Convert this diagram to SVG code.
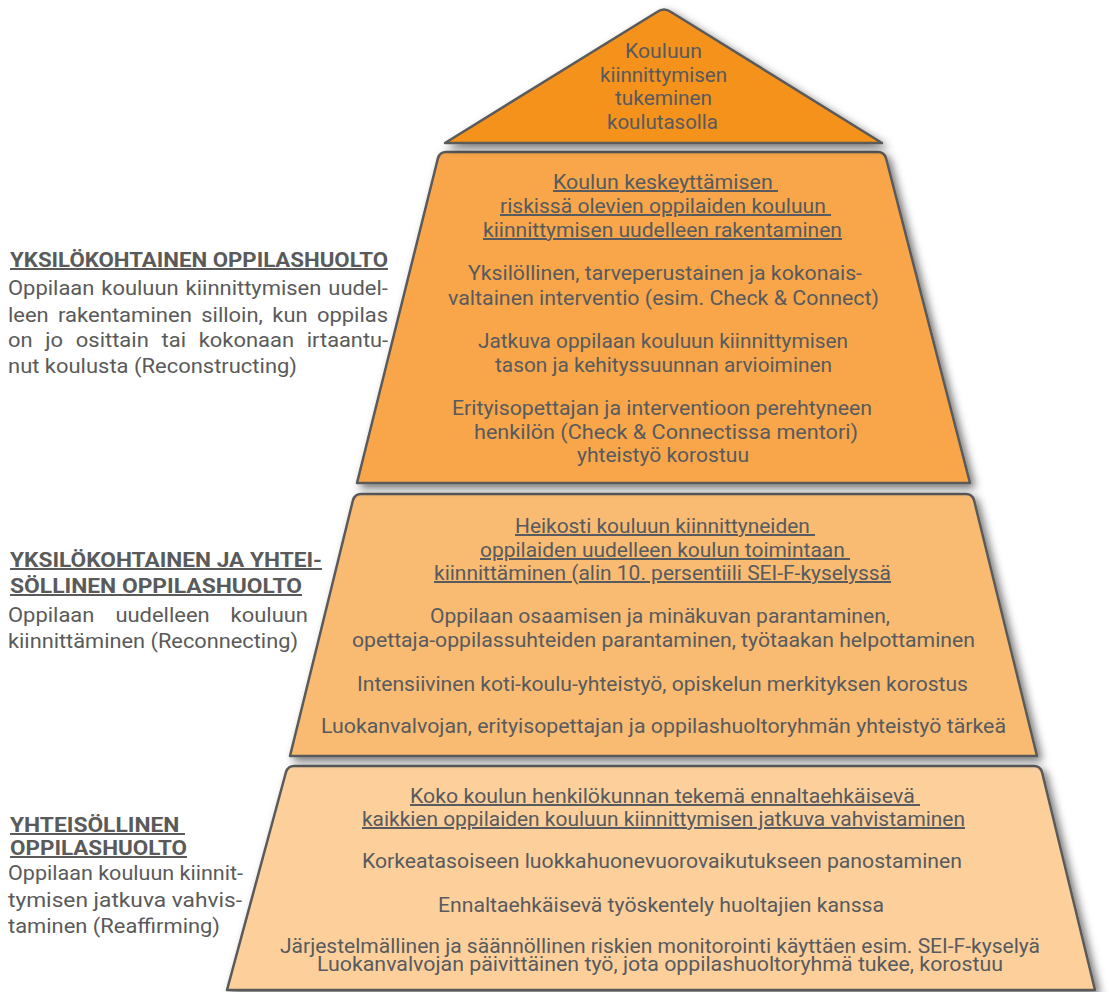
<svg xmlns="http://www.w3.org/2000/svg" width="1109" height="992" viewBox="0 0 1109 992">
<defs>
<style>
.shape{stroke:#5a5a5a;stroke-width:2.5;stroke-linejoin:round;filter:url(#sh)}
.t{font-family:Roboto,"Liberation Sans",sans-serif;font-size:20px;fill:#575a5e;text-anchor:middle}
.u{text-decoration:underline;white-space:pre}
.l{font-family:Roboto,"Liberation Sans",sans-serif;font-size:20px;fill:#5a5a5a}
.h{font-family:Roboto,"Liberation Sans",sans-serif;font-size:20px;font-weight:bold;fill:#5a5a5a;text-decoration:underline;white-space:pre}
</style>
<filter id="sh" x="-10%" y="-10%" width="125%" height="130%">
<feDropShadow dx="4" dy="4" stdDeviation="4" flood-color="#000" flood-opacity="0.55"/>
</filter>
</defs>
<rect width="1109" height="992" fill="#ffffff"/>

<g id="connectors"/>

<g id="level4">
<path class="shape" fill="#FDD09B" d="M227,990 L286,772 Q288,766 294,766 L1034,766 Q1040,766 1042,772 L1095,990 Z"/>
<text class="t u" x="665" y="803" textLength="510" lengthAdjust="spacingAndGlyphs">Koko koulun henkilökunnan tekemä ennaltaehkäisevä </text>
<text class="t u" x="663.5" y="826" textLength="603" lengthAdjust="spacingAndGlyphs">kaikkien oppilaiden kouluun kiinnittymisen jatkuva vahvistaminen</text>
<text class="t" x="662" y="868" textLength="600" lengthAdjust="spacingAndGlyphs">Korkeatasoiseen luokkahuonevuorovaikutukseen panostaminen</text>
<text class="t" x="661" y="912" textLength="446" lengthAdjust="spacingAndGlyphs">Ennaltaehkäisevä työskentely huoltajien kanssa</text>
<text class="t" x="660" y="953" textLength="760" lengthAdjust="spacingAndGlyphs">Järjestelmällinen ja säännöllinen riskien monitorointi käyttäen esim. SEI-F-kyselyä</text>
<text class="t" x="660" y="971" textLength="686" lengthAdjust="spacingAndGlyphs">Luokanvalvojan päivittäinen työ, jota oppilashuoltoryhmä tukee, korostuu</text>
</g>

<g id="level3">
<path class="shape" fill="#F9BA72" d="M290,756 L353,500 Q355,494 361,494 L966,494 Q972,494 974,500 L1037,756 Z"/>
<text class="t u" x="665" y="533" textLength="300" lengthAdjust="spacingAndGlyphs">Heikosti kouluun kiinnittyneiden </text>
<text class="t u" x="665" y="557" textLength="370" lengthAdjust="spacingAndGlyphs">oppilaiden uudelleen koulun toimintaan </text>
<text class="t u" x="662.5" y="580" textLength="457" lengthAdjust="spacingAndGlyphs">kiinnittäminen (alin 10. persentiili SEI-F-kyselyssä</text>
<text class="t" x="660" y="623" textLength="460" lengthAdjust="spacingAndGlyphs">Oppilaan osaamisen ja minäkuvan parantaminen,</text>
<text class="t" x="663.5" y="647" textLength="623" lengthAdjust="spacingAndGlyphs">opettaja-oppilassuhteiden parantaminen, työtaakan helpottaminen</text>
<text class="t" x="662.5" y="691" textLength="611" lengthAdjust="spacingAndGlyphs">Intensiivinen koti-koulu-yhteistyö, opiskelun merkityksen korostus</text>
<text class="t" x="663.5" y="733" textLength="685" lengthAdjust="spacingAndGlyphs">Luokanvalvojan, erityisopettajan ja oppilashuoltoryhmän yhteistyö tärkeä</text>
</g>

<g id="level2">
<path class="shape" fill="#F8A64A" d="M357,483 L438,158 Q440,152 446,152 L878,152 Q884,152 886,158 L970,483 Z"/>
<text class="t u" x="665.5" y="189" textLength="225" lengthAdjust="spacingAndGlyphs">Koulun keskeyttämisen </text>
<text class="t u" x="665.5" y="213" textLength="331" lengthAdjust="spacingAndGlyphs">riskissä olevien oppilaiden kouluun </text>
<text class="t u" x="662.5" y="237" textLength="359" lengthAdjust="spacingAndGlyphs">kiinnittymisen uudelleen rakentaminen</text>
<text class="t" x="665" y="280" textLength="394" lengthAdjust="spacingAndGlyphs">Yksilöllinen, tarveperustainen ja kokonais-</text>
<text class="t" x="663.5" y="305" textLength="431" lengthAdjust="spacingAndGlyphs">valtainen interventio (esim. Check &amp; Connect)</text>
<text class="t" x="663" y="348" textLength="370" lengthAdjust="spacingAndGlyphs">Jatkuva oppilaan kouluun kiinnittymisen</text>
<text class="t" x="663.5" y="372" textLength="337" lengthAdjust="spacingAndGlyphs">tason ja kehityssuunnan arvioiminen</text>
<text class="t" x="662" y="415" textLength="420" lengthAdjust="spacingAndGlyphs">Erityisopettajan ja interventioon perehtyneen</text>
<text class="t" x="666" y="439" textLength="384" lengthAdjust="spacingAndGlyphs">henkilön (Check &amp; Connectissa mentori)</text>
<text class="t" x="663" y="462" textLength="172" lengthAdjust="spacingAndGlyphs">yhteistyö korostuu</text>
</g>

<g id="level1">
<path class="shape" fill="#F5921E" d="M445,143 L657,12 Q664,7 671,12 L882,143 Z"/>
<text class="t" x="663.5" y="58" textLength="77" lengthAdjust="spacingAndGlyphs">Kouluun</text>
<text class="t" x="663.5" y="82" textLength="127" lengthAdjust="spacingAndGlyphs">kiinnittymisen</text>
<text class="t" x="663.5" y="105" textLength="97" lengthAdjust="spacingAndGlyphs">tukeminen</text>
<text class="t" x="662.5" y="129" textLength="111" lengthAdjust="spacingAndGlyphs">koulutasolla</text>
</g>

<g id="label-yksilokohtainen">
<text class="h" x="10" y="267" textLength="378" lengthAdjust="spacingAndGlyphs">YKSILÖKOHTAINEN OPPILASHUOLTO</text>
<text class="l" x="8" y="295" textLength="86.4" lengthAdjust="spacingAndGlyphs">Oppilaan</text>
<text class="l" x="101.3" y="295" textLength="77.4" lengthAdjust="spacingAndGlyphs">kouluun</text>
<text class="l" x="185.6" y="295" textLength="135.8" lengthAdjust="spacingAndGlyphs">kiinnittymisen</text>
<text class="l" x="328.3" y="295" textLength="59.6" lengthAdjust="spacingAndGlyphs">uudel-</text>
<text class="l" x="8" y="322" textLength="40.7" lengthAdjust="spacingAndGlyphs">leen</text>
<text class="l" x="58" y="322" textLength="133.9" lengthAdjust="spacingAndGlyphs">rakentaminen</text>
<text class="l" x="201.3" y="322" textLength="61.6" lengthAdjust="spacingAndGlyphs">silloin,</text>
<text class="l" x="272.3" y="322" textLength="35.3" lengthAdjust="spacingAndGlyphs">kun</text>
<text class="l" x="316.9" y="322" textLength="71.1" lengthAdjust="spacingAndGlyphs">oppilas</text>
<text class="l" x="8" y="347" textLength="24.6" lengthAdjust="spacingAndGlyphs">on</text>
<text class="l" x="45.3" y="347" textLength="17.8" lengthAdjust="spacingAndGlyphs">jo</text>
<text class="l" x="75.8" y="347" textLength="73" lengthAdjust="spacingAndGlyphs">osittain</text>
<text class="l" x="161.5" y="347" textLength="24.5" lengthAdjust="spacingAndGlyphs">tai</text>
<text class="l" x="198.7" y="347" textLength="95.4" lengthAdjust="spacingAndGlyphs">kokonaan</text>
<text class="l" x="306.8" y="347" textLength="81.3" lengthAdjust="spacingAndGlyphs">irtaantu-</text>
<text class="l" x="8" y="373" textLength="289" lengthAdjust="spacingAndGlyphs">nut koulusta (Reconstructing)</text>
</g>

<g id="label-yksilo-yhteisollinen">
<text class="h" x="10" y="567" textLength="312" lengthAdjust="spacingAndGlyphs">YKSILÖKOHTAINEN JA YHTEI-</text>
<text class="h" x="10" y="593" textLength="292" lengthAdjust="spacingAndGlyphs">SÖLLINEN OPPILASHUOLTO</text>
<text class="l" x="8" y="622" textLength="86.4" lengthAdjust="spacingAndGlyphs">Oppilaan</text>
<text class="l" x="115.4" y="622" textLength="94.3" lengthAdjust="spacingAndGlyphs">uudelleen</text>
<text class="l" x="230.6" y="622" textLength="77.4" lengthAdjust="spacingAndGlyphs">kouluun</text>
<text class="l" x="8" y="648" textLength="290" lengthAdjust="spacingAndGlyphs">kiinnittäminen (Reconnecting)</text>
</g>

<g id="label-yhteisollinen">
<text class="h" x="10" y="832" textLength="175" lengthAdjust="spacingAndGlyphs">YHTEISÖLLINEN </text>
<text class="h" x="10" y="855" textLength="177" lengthAdjust="spacingAndGlyphs">OPPILASHUOLTO</text>
<text class="l" x="8" y="880" textLength="235" lengthAdjust="spacingAndGlyphs">Oppilaan kouluun kiinnit-</text>
<text class="l" x="8" y="907" textLength="234" lengthAdjust="spacingAndGlyphs">tymisen jatkuva vahvis-</text>
<text class="l" x="8" y="933" textLength="212" lengthAdjust="spacingAndGlyphs">taminen (Reaffirming)</text>
</g>
</svg>
